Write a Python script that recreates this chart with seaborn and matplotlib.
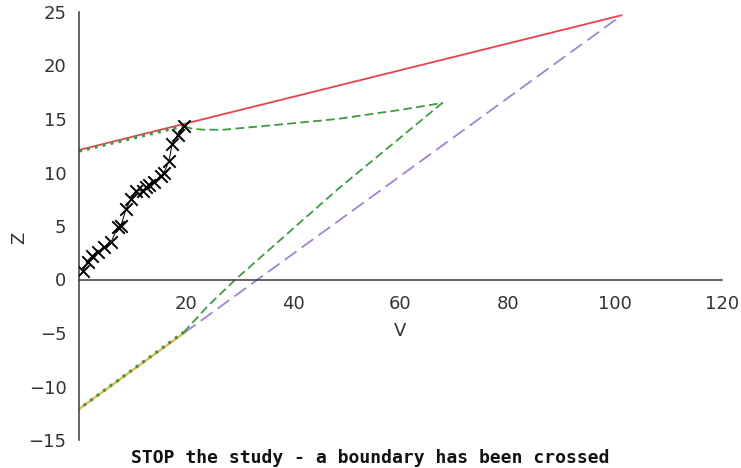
import numpy as np
import pandas as pd
import seaborn as sns
import matplotlib
matplotlib.use("Agg")
import matplotlib.pyplot as plt

# boundary lines
upper_v = [0, 101.3]
upper_z = [12.1, 24.7]
lower_v = [19.6, 101.3]
lower_z = [-5.0, 24.7]
lower_start_v = [0, 19.6]
lower_start_z = [-12.1, -5.0]

# continuation region (green)
cont_top_v = [0, 19.6]
cont_top_z = [12.0, 14.35]
cont_v = [19.6, 21.0, 23.2, 27.0, 35.7, 48.2, 60.6, 67.8, 48.2, 29.2, 24.0, 19.6]
cont_z = [14.35, 14.1, 14.0, 14.0, 14.4, 15.0, 15.9, 16.5, 8.4, 0.0, -2.5, -4.9]
cont_bot_v = [19.6, 0]
cont_bot_z = [-4.9, -12.1]

# observed test statistics
stat_v = [0.7, 1.6, 2.5, 3.5, 4.7, 6.0, 7.2, 7.8, 8.8, 9.7, 10.6, 11.9,
          12.5, 13.1, 14.0, 15.3, 15.9, 16.8, 17.4, 18.4, 19.6]
stat_z = [0.8, 1.6, 2.2, 2.6, 3.0, 3.5, 4.9, 5.0, 6.6, 7.5, 8.3, 8.3,
          8.6, 8.8, 9.1, 9.7, 10.0, 11.1, 12.7, 13.5, 14.3]

sns.set_style("white")
plt.rcParams['font.family'] = ['DejaVu Sans']

fig = plt.figure(figsize=(7.41, 4.68), dpi=100)
ax = fig.add_axes([79/741, 1-440/468, 643/741, 428/468])

red = '#e8434c'
green = '#3f9a40'
purple = '#a283d2'

sns.lineplot(x=upper_v, y=upper_z, ax=ax, color=red, lw=1.3, sort=False, estimator=None)
sns.lineplot(x=lower_v, y=lower_z, ax=ax, color=purple, lw=1.3, sort=False,
             estimator=None).lines[-1].set_dashes((8, 3.5))
sns.lineplot(x=lower_start_v, y=lower_start_z, ax=ax, color='#f0b050', lw=1.6,
             sort=False, estimator=None)

ln = sns.lineplot(x=cont_v, y=cont_z, ax=ax, color=green, lw=1.3, sort=False,
                  estimator=None).lines[-1]
ln.set_dashes((4.8, 2.4))
for vv, zz in [(cont_top_v, cont_top_z), (cont_bot_v, cont_bot_z)]:
    l2 = sns.lineplot(x=vv, y=zz, ax=ax, color=green, lw=2.2, sort=False,
                      estimator=None).lines[-1]
    l2.set_linestyle(':')

stats_df = pd.DataFrame({'V': stat_v, 'Z': stat_z})
sns.lineplot(data=stats_df, x='V', y='Z', ax=ax, color='black', lw=0.7,
             sort=False, estimator=None)
sns.scatterplot(data=stats_df, x='V', y='Z', ax=ax, marker='x', s=80,
                color='black', linewidths=1.4, zorder=5)

ax.set_xlim(0, 120)
ax.set_ylim(-15, 25)
ax.set_xticks([20, 40, 60, 80, 100, 120])
ax.set_yticks(np.arange(-15, 26, 5))

for s in ['top', 'right']:
    ax.spines[s].set_visible(False)
ax.spines['bottom'].set_position(('data', 0))
for s in ['left', 'bottom']:
    ax.spines[s].set_color('#3a3a3a')
    ax.spines[s].set_linewidth(1.1)

ax.tick_params(axis='both', direction='out', length=4, width=1.0,
               colors='#3a3a3a', labelsize=13, labelcolor='#333333')
ax.tick_params(axis='x', pad=7)
ax.tick_params(axis='y', pad=5)

ax.set_xlabel('V', fontsize=13, color='#333333')
ax.set_ylabel('Z', fontsize=13, color='#333333')
ax.xaxis.set_label_coords(0.5, 0.276)
ax.yaxis.set_label_coords(-0.079, 0.472)

fig.text(0.4997, 1 - 458/468, 'STOP the study - a boundary has been crossed',
         ha='center', va='center', fontsize=13, fontweight='bold',
         family='DejaVu Sans Mono', color='#111111')

fig.savefig('out.png', dpi=100)
